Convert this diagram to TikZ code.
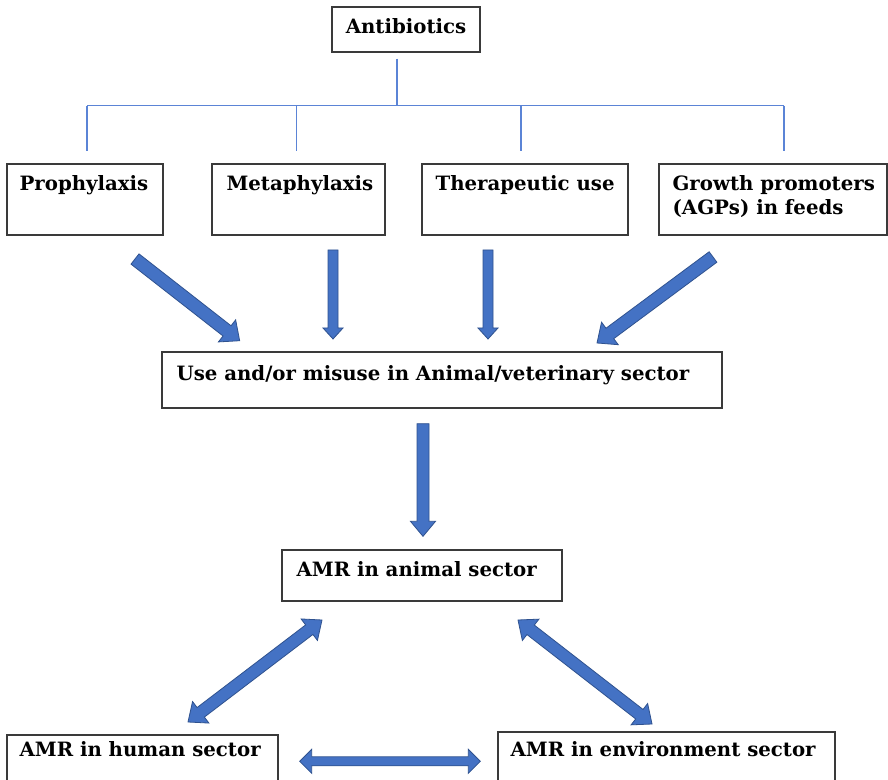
\documentclass[tikz,border=0pt]{standalone}
\usepackage{fontspec}
\setmainfont{DejaVu Serif}
\usetikzlibrary{calc,fit}

\definecolor{arrowfill}{HTML}{4472C4}
\definecolor{arrowedge}{HTML}{2F528F}
\definecolor{busblue}{HTML}{5B84D6}
\definecolor{boxedge}{HTML}{3A3A3A}

\tikzset{
  panel/.style={draw=boxedge, line width=1pt, fill=white, inner sep=0pt},
  caption/.style={inner sep=0pt, anchor=base west, align=left,
                  font=\fontsize{14.8}{18}\selectfont\bfseries},
  busline/.style={draw=busblue, line width=0.9pt},
  arrowbody/.style={draw=arrowedge, fill=arrowfill, line width=0.6pt, line join=miter},
}

% single block arrow: #1 half shaft, #2 half head, #3 head length (px), from #4 to #5
\newcommand{\blockarrow}[5]{%
  \path let \p1=($(#5)-(#4)$), \n1={atan2(\y1,\x1)}, \n2={veclen(\x1,\y1)} in
    [arrowbody, shift={(#4)}, rotate=\n1]
    (0pt,{-#1*0.75pt}) -- ({\n2*1pt-#3*0.75pt},{-#1*0.75pt})
    -- ({\n2*1pt-#3*0.75pt},{-#2*0.75pt}) -- ({\n2*1pt},0pt)
    -- ({\n2*1pt-#3*0.75pt},{#2*0.75pt}) -- ({\n2*1pt-#3*0.75pt},{#1*0.75pt})
    -- (0pt,{#1*0.75pt}) -- cycle;}

% double-headed block arrow, same arguments
\newcommand{\twowayarrow}[5]{%
  \path let \p1=($(#5)-(#4)$), \n1={atan2(\y1,\x1)}, \n2={veclen(\x1,\y1)} in
    [arrowbody, shift={(#4)}, rotate=\n1]
    (0pt,0pt) -- ({#3*0.75pt},{-#2*0.75pt}) -- ({#3*0.75pt},{-#1*0.75pt})
    -- ({\n2*1pt-#3*0.75pt},{-#1*0.75pt}) -- ({\n2*1pt-#3*0.75pt},{-#2*0.75pt})
    -- ({\n2*1pt},0pt)
    -- ({\n2*1pt-#3*0.75pt},{#2*0.75pt}) -- ({\n2*1pt-#3*0.75pt},{#1*0.75pt})
    -- ({#3*0.75pt},{#1*0.75pt}) -- ({#3*0.75pt},{#2*0.75pt}) -- cycle;}

\begin{document}
\begin{tikzpicture}[x=0.75pt, y=-0.75pt]
\useasboundingbox (0,0) rectangle (888,780);
\clip (0,0) rectangle (888,780);
\fill[white] (0,0) rectangle (888,780);

% boxes
\node[panel, fit={(332,7) (480,52)}] (anti) {};
\node[panel, fit={(7,164) (163,235)}] (proph) {};
\node[panel, fit={(212,164) (385,235)}] (meta) {};
\node[panel, fit={(422,164) (628,235)}] (thera) {};
\node[panel, fit={(659,164) (887,235)}] (growth) {};
\node[panel, fit={(162,352) (722,408)}] (use) {};
\node[panel, fit={(282,550) (562,601)}] (animal) {};
\node[panel, fit={(7,735) (278,800)}] (human) {};
\node[panel, fit={(498,732) (835,800)}] (env) {};

% captions (base anchor of a two-line caption sits on its last line)
\node[caption, anchor=base] (tanti) at ($(anti.north)+(0,27)$) {Antibiotics};
\node[caption] (tproph) at ($(proph.north west)+(13,27)$) {Prophylaxis};
\node[caption] (tmeta) at ($(meta.north west)+(15,27)$) {Metaphylaxis};
\node[caption] (tthera) at ($(thera.north west)+(14,27)$) {Therapeutic use};
\node[caption] (tgrowth) at ($(growth.north west)+(14,51)$) {Growth promoters\\(AGPs) in feeds};
\node[caption] (tuse) at ($(use.north west)+(15,29)$) {Use and/or misuse in Animal/veterinary sector};
\node[caption] (tanimal) at ($(animal.north west)+(15,27)$) {AMR in animal sector};
\node[caption] (thuman) at ($(human.north west)+(13,22)$) {AMR in human sector};
\node[caption] (tenv) at ($(env.north west)+(13,25)$) {AMR in environment sector};

% branching tree below the top box
\coordinate (stem) at ($(anti.south)+(-9,6)$);
\coordinate (bus) at ($(anti.south)+(-9,53)$);
\coordinate (d1) at ($(proph.north)+(2,0)$);
\coordinate (d2) at ($(meta.north)+(-2,0)$);
\coordinate (d3) at ($(thera.north)+(-4,0)$);
\coordinate (d4) at ($(growth.north)+(11,0)$);
\draw[busline] (stem) -- (bus);
\draw[busline] (d1 |- bus) -- (d4 |- bus);
\draw[busline, shorten >=9pt] (d1 |- bus) -- (d1);
\draw[busline, shorten >=9pt] (d2 |- bus) -- (d2);
\draw[busline, shorten >=9pt] (d3 |- bus) -- (d3);
\draw[busline, shorten >=9pt] (d4 |- bus) -- (d4);

% arrows into the use/misuse box
\coordinate (a1s) at (135,259);
\coordinate (a1e) at (240,341);
\coordinate (a2s) at (333,250);
\coordinate (a2e) at (333,339);
\coordinate (a3s) at (488,250);
\coordinate (a3e) at (488,339);
\coordinate (a4s) at (713,257);
\coordinate (a4e) at (597,343);
\blockarrow{6.5}{14}{16}{a1s}{a1e}
\blockarrow{5}{10}{11}{a2s}{a2e}
\blockarrow{5}{10}{11}{a3s}{a3e}
\blockarrow{6.5}{14}{16}{a4s}{a4e}

% arrow down to the animal sector
\coordinate (a5s) at ($(use.south)+(-19,15)$);
\coordinate (a5e) at ($(animal.north)+(1,-13)$);
\blockarrow{6}{12.5}{15}{a5s}{a5e}

% two-way links between the three sectors
\coordinate (b1s) at (322,620);
\coordinate (b1e) at (188,722);
\coordinate (b2s) at (518,620);
\coordinate (b2e) at (652,724);
\coordinate (b3s) at ($(human.north east)+(21,27)$);
\coordinate (b3e) at ($(env.north west)+(-17,30)$);
\twowayarrow{6}{13.5}{16}{b1s}{b1e}
\twowayarrow{6}{13.5}{16}{b2s}{b2e}
\twowayarrow{4.5}{12}{12}{b3s}{b3e}
\end{tikzpicture}
\end{document}
